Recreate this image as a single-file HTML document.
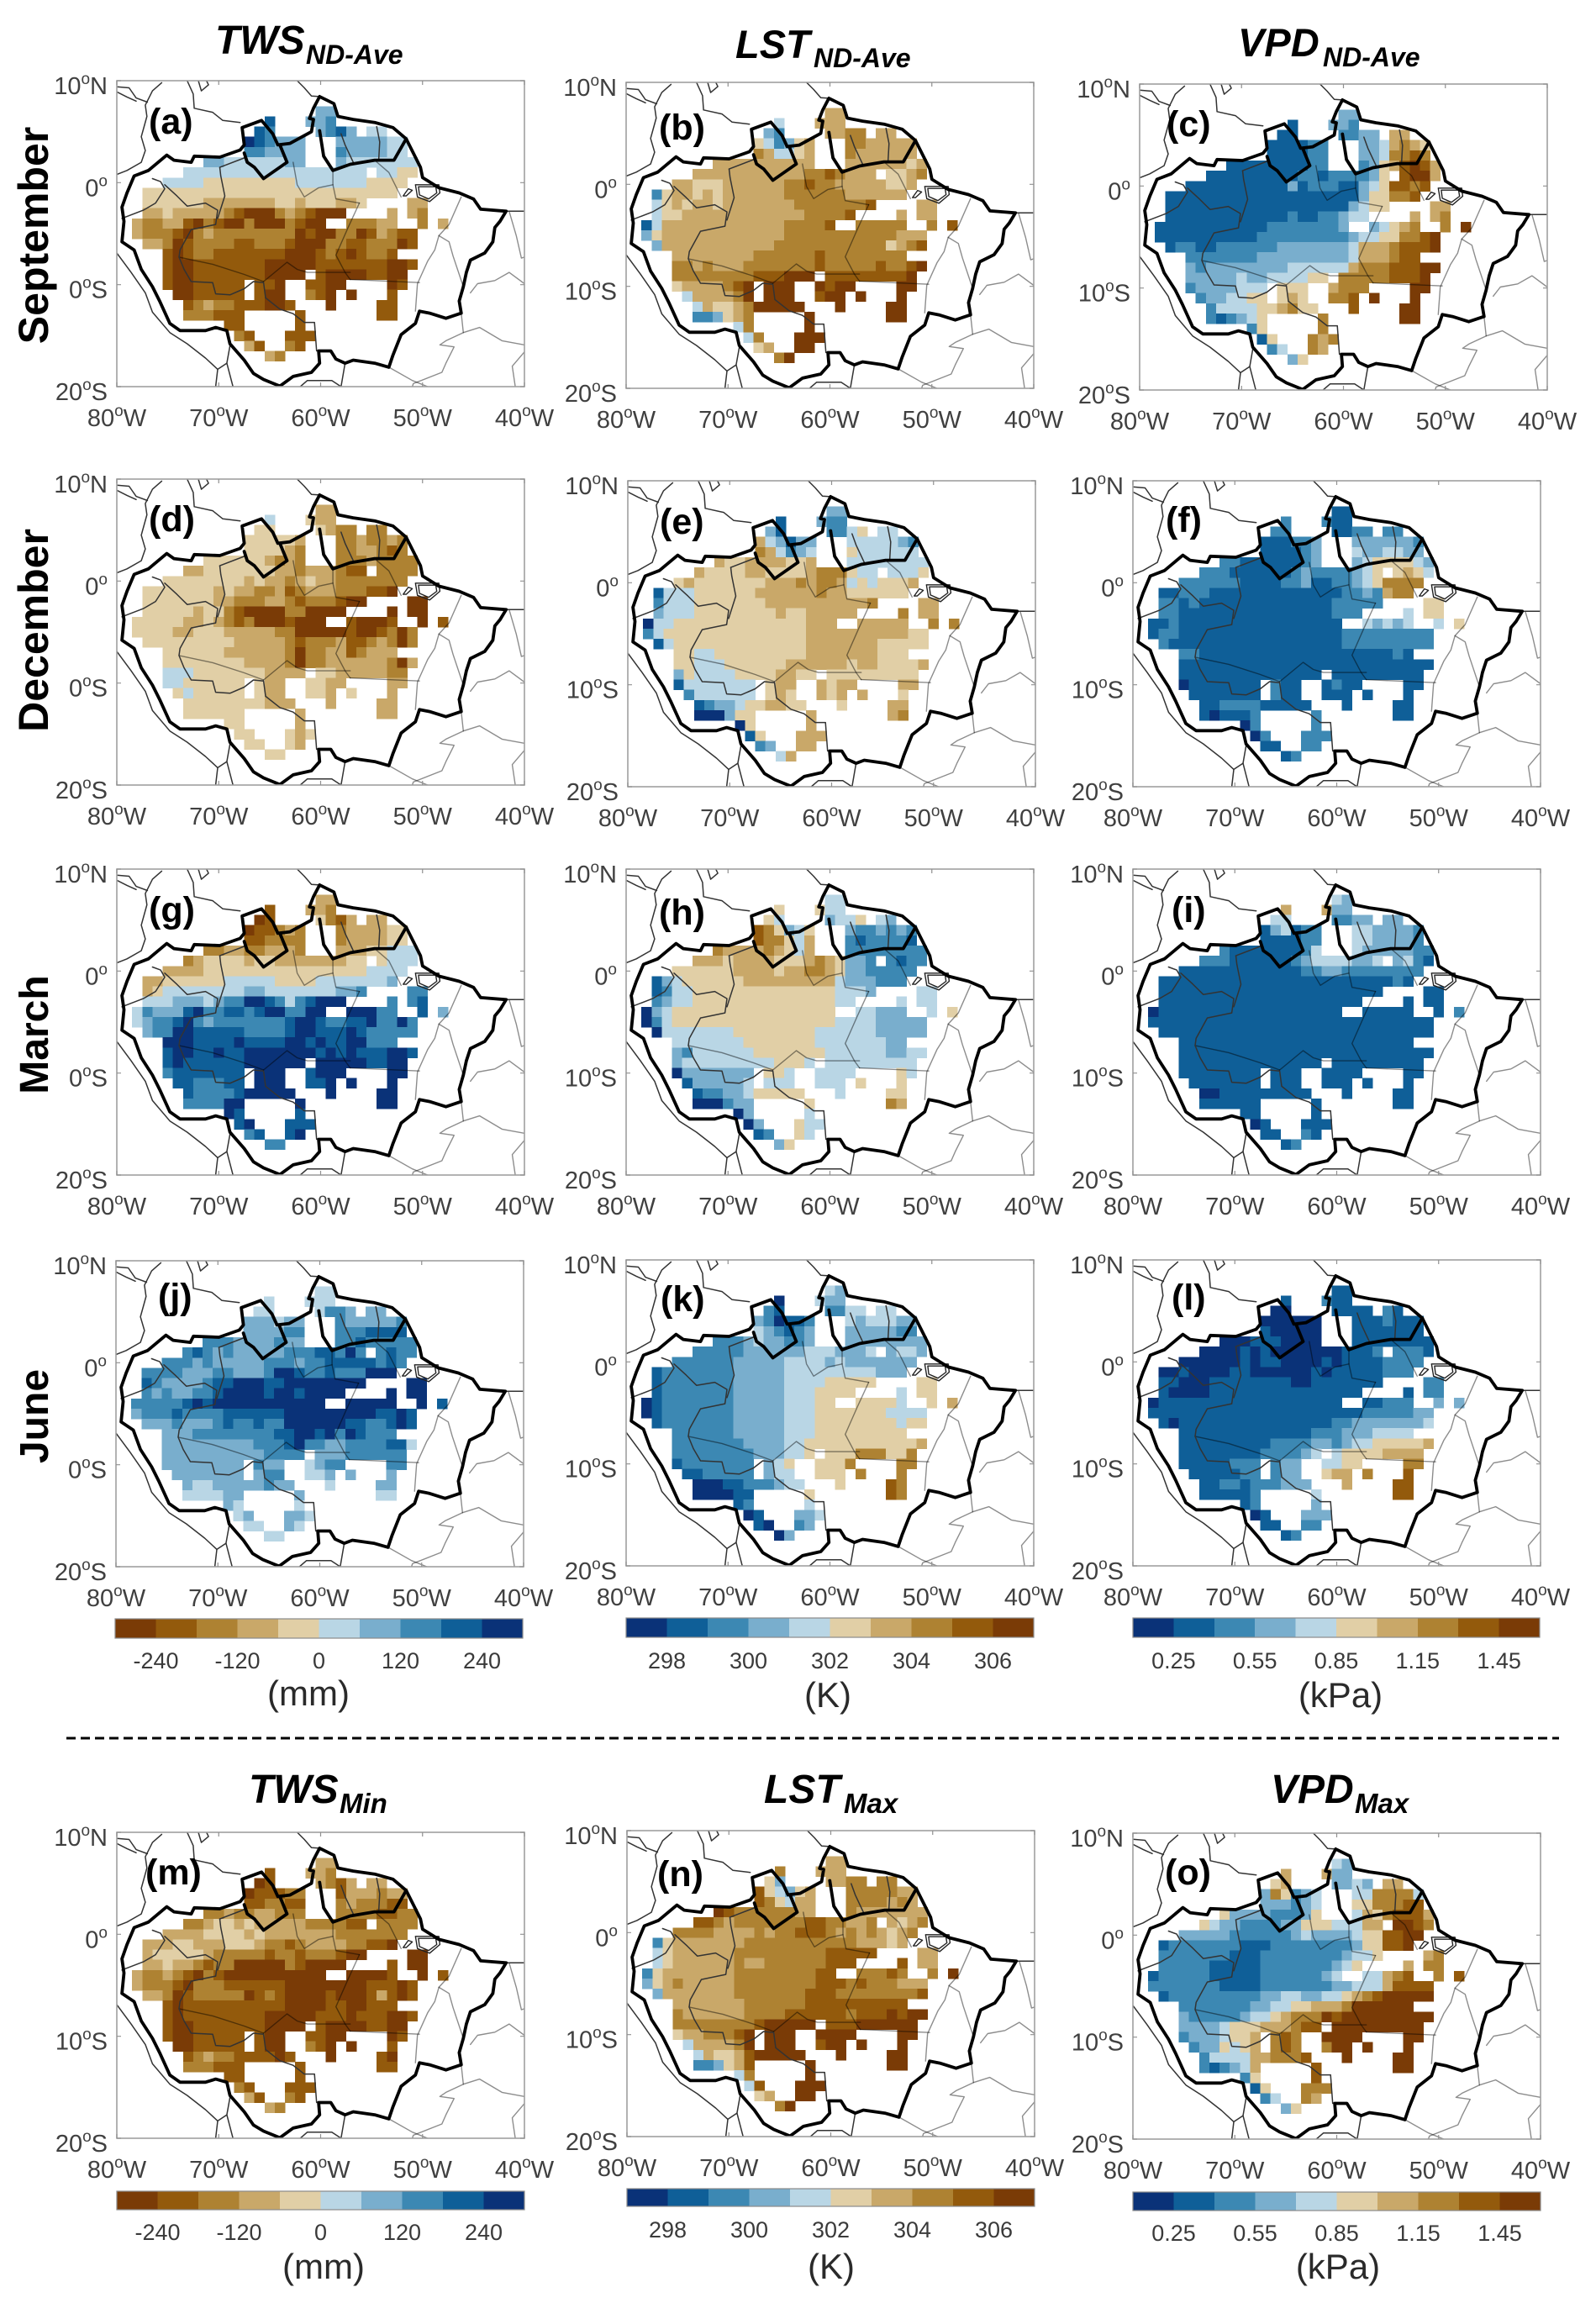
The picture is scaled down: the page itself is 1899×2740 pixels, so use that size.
<!DOCTYPE html>
<html lang="en">
<head>
<meta charset="utf-8">
<title>Amazon TWS, LST and VPD maps</title>
<style>
html,body{margin:0;padding:0;background:#fff;}
svg{display:block;font-family:"Liberation Sans",sans-serif;}
.title{font-weight:bold;font-style:italic;fill:#000;}
.row-label{font-weight:bold;font-size:50px;fill:#000;}
.tick{fill:#404040;font-size:29px;}
.cb-tick{fill:#3a3a3a;font-size:27px;}
.unit{fill:#2a2a2a;font-size:42px;}
.plabel{font-weight:bold;font-size:43px;fill:#000;}
</style>
</head>
<body>
<svg id="fig" xmlns="http://www.w3.org/2000/svg" width="1899" height="2740" viewBox="0 0 1899 2740">
<rect width="1899" height="2740" fill="#fff"/>
<g id="panels"></g>
<g id="colorbars"></g>
<g>
<text class="title" x="256" y="64" font-size="48">TWS</text>
<text class="title" x="364" y="76" font-size="32">ND-Ave</text>
<text class="title" x="875" y="69" font-size="47">LST</text>
<text class="title" x="968" y="80" font-size="32">ND-Ave</text>
<text class="title" x="1473" y="67" font-size="47">VPD</text>
<text class="title" x="1574" y="79" font-size="32">ND-Ave</text>
<text class="title" x="296" y="2145" font-size="48">TWS</text>
<text class="title" x="404" y="2157" font-size="33">Min</text>
<text class="title" x="909" y="2145" font-size="48">LST</text>
<text class="title" x="1004" y="2157" font-size="33">Max</text>
<text class="title" x="1512" y="2145" font-size="48">VPD</text>
<text class="title" x="1612" y="2157" font-size="33">Max</text>
</g>
<g>
<text class="row-label" text-anchor="middle" transform="translate(57 280) rotate(-90)">September</text>
<text class="row-label" text-anchor="middle" transform="translate(57 750) rotate(-90)">December</text>
<text class="row-label" text-anchor="middle" style="font-size:48px" transform="translate(57 1231) rotate(-90)">March</text>
<text class="row-label" text-anchor="middle" style="font-size:48px" transform="translate(57 1685) rotate(-90)">June</text>
</g>
<line x1="79" y1="2068" x2="1855" y2="2068" stroke="#000" stroke-width="3" stroke-dasharray="11 6"/>
</svg>
<script>
/* Colour ramps: index = value bin, lowest value first */
const twsColors = ["#7a3b06","#935a0c","#ae8232","#c9a869","#e1cfa6","#b9d6e5","#79aecd","#3c88b3","#0f5f98","#0a3278"];
const climateColors = ["#0a3278","#0f5f98","#3c88b3","#79aecd","#b9d6e5","#e1cfa6","#c9a869","#ae8232","#935a0c","#7a3b06"];

/* Axis ticks */
const lonTicks = [-80,-70,-60,-50,-40];
const latTicks = [10,0,-10,-20];

/* Grid: columns centred on 78W..48W, rows centred on 7N..17S, one degree apart */
const gridWestLon = -78;
const gridNorthLat = 7;

/* Colourbar ticks */
const twsBarDomain = [-300,300];
const lstBarDomain = [297,307];
const vpdBarDomain = [0.1,1.6];
const twsBarTicks = [-240,-120,0,120,240];
const lstBarTicks = [298,300,302,304,306];
const vpdBarTicks = [0.25,0.55,0.85,1.15,1.45];

/* Value bins per grid cell ('.' = no data) */
const twsSeptember = [
"..................66...........",
".............8...667...........",
"............87....6786.55......",
"...........987666...6666655....",
"...........776666...7666655....",
".......6655555566...65555555...",
".....555555555555555555.5544...",
"...555544444444455555554444....",
".4444444444444444444444444.....",
".4444443333333443444334....33..",
".33433333210002321000....3.32..",
"3223310210020002100..22233..2.3",
"3222102322222222010022013211...",
".332012222112221000221122201...",
"...10122111111100012101221.....",
"...1001111111000001111111001...",
"...10011111110000.100001100....",
"...10011111.110..1100....01....",
"....0011111.100..210.0...1.....",
".....12322111001...0....11.....",
".....222111.....1.......11.....",
".........11.....1..............",
"..........21...111.............",
"...........31..21..............",
".............32................"];
const lstSeptember = [
"..................66...........",
".............4...666...........",
"............32....6677.66......",
"...........542356...7766666....",
"...........764456...7666666....",
".......6666666666...66666656...",
".....666666666667787666.5567...",
"...665556666667787766666556....",
".2566565666666777777666666.....",
".4565665666666677777778....66..",
".45566666666666677778....6.66..",
"1466666666666677778..77777..7.8",
"3566666666666677777777777666...",
".366666666666777777777775678...",
"...66666666777777877777777.....",
"...7767666777777787777787789...",
"...77777777888999.888888889....",
"...56666789.999..9899....99....",
"....4666679.999..899.9...9.....",
".....46556799999...9....99.....",
".....223567.....9.......99.....",
".........47.....9..............",
"..........47...999.............",
"...........56..99..............",
".............79................"];
const vpdSeptember = [
"..................33...........",
".............1...332...........",
"............11....2233.66......",
"...........111122...3346765....",
"...........111122...3347787....",
".......1111111122...23568986...",
".....111111111221222235.8996...",
"...111111111131222113458878....",
".1111111111111111111355778.....",
".1111111111111111113455....66..",
".11111111111121122344....6.67..",
"1111111111122222223..34567..7.9",
"1111111111222222222344557789...",
".122112222223333333466678889...",
"...22222223333333334666788.....",
"...3233333333444444677788899...",
"...33333433444455.777778889....",
"...23333444.555..6777....99....",
"....2334455.565..778.9...9.....",
".....24444556755...8....99.....",
".....212345.....7.......99.....",
".........25.....7..............",
"..........15...767.............",
"...........24..76..............",
".............35................"];
const twsDecember = [
"..................33...........",
".............5...433...........",
"............44....4322.22......",
"...........444443...2232232....",
"...........444432...2233212....",
".......4444443232...22232222...",
".....334444444332333211.2222...",
"...444444443433234332222222....",
".4444444343322312333222110.....",
".4444444332223321222100....00..",
".44444344210000220000....0.00..",
"4444433432120001000..10001..0.1",
"4444334443333322000001001202...",
".444444444333332122231123202...",
"...44444433333320223312333.....",
"...4444444433332022333333203...",
"...55544444443333.443333322....",
"...55444444.433..4433....33....",
"....4544444.433..443.4...3.....",
".....44444444333...3....33.....",
".....444444.....3.......33.....",
".........44.....3..............",
"..........44...434.............",
"...........44..43..............",
".............44................"];
const lstDecember = [
"..................33...........",
".............1...322...........",
"............31....2245.44......",
"...........643133...4444432....",
"...........764234...5444444....",
".......6556666556...44444444...",
".....655556655556777544.4445...",
"...565555555666767764545556....",
".1444555555666666766555555.....",
".2444555555566666666667....66..",
".34445555555565566666....7.66..",
"0445555555555555666..66666..7.7",
"2455555555555555666666666655...",
".145555555555555666666655555...",
"...55445555555556666666555.....",
"...5544455555566666656655556...",
"...35444455556655.555555555....",
"...14444444.566..6566....66....",
"....2444444.565..656.6...5.....",
".....12334556655...5....66.....",
".....000355.....6.......67.....",
".........05.....6..............",
"..........15...666.............",
"...........23..66..............",
".............46................"];
const vpdDecember = [
"..................11...........",
".............2...211...........",
"............22....1122.22......",
"...........111223...3333332....",
"...........111123...4334433....",
".......2211111123...34555543...",
".....222111111232222345.5654...",
"...222222111122311223457777....",
".1122211111111111112232677.....",
".2212111111111111122222....55..",
".22111111111111111222....4.55..",
"1121111111111111111..43434..4.5",
"1221111111111111111222222222...",
".211111111111111111222222222...",
"...22111111111111111111121.....",
"...1111111111111111111111111...",
"...11111111111111.111111111....",
"...01111111.211..1211....11....",
"....1111111.211..111.1...1.....",
".....11222211111...1....11.....",
".....101112.....2.......11.....",
".........02.....2..............",
"..........02...222.............",
"...........11..22..............",
".............12................"];
const twsMarch = [
"..................33...........",
".............1...332...........",
"............01....4213.33......",
"...........011232...2333344....",
"...........112222...2333344....",
".......2233223332...33344555...",
".....234444344333333344.4555...",
"...333344444444444444445555....",
".3344444455555444455555556.....",
".3455555555665555555667....77..",
".55566656779987578999....7.78..",
"5766689778878997799..99977..8.6",
"5677897677777778998778897797...",
".677998888877778998889877777...",
"...99988889888899898899777.....",
"...8998898899999998989888998...",
"...89888888999999.999998899....",
"...78888888.999..8999....99....",
"....8877788.999..889.9...9.....",
".....87777899999...9....99.....",
".....777799.....9.......99.....",
".........98.....8..............",
"..........89...888.............",
"...........78..89..............",
".............77................"];
const lstMarch = [
"..................44...........",
".............5...544...........",
"............54....3445.43......",
"...........875345...3223232....",
"...........877546...2122221....",
".......7666676546...22222222...",
".....666566665556765332.2122...",
"...555555666656677653322222....",
".1345555556666666664333222.....",
".1244555555555555554443....44..",
".23445555555555555544....4.44..",
"0345555555555555555..44333..4.5",
"0245555555555555555444433333...",
".044444445555555544444433333...",
"...44444445555555444444433.....",
"...3244444455555554444443344...",
"...34444444445554.444444444....",
"...03333333.554..4444....54....",
"....1333334.444..444.5...5.....",
".....12233455555...4....55.....",
".....000233.....5.......76.....",
".........03.....4..............",
"..........03...544.............",
"...........12..54..............",
".............35................"];
const vpdMarch = [
"..................43...........",
".............6...633...........",
"............44....2233.33......",
"...........134122...4433332....",
"...........111122...4433332....",
".......2111111124...43333322...",
".....222111111234444334.3421...",
"...111111111111223322222222....",
".1111111111111111111111121.....",
".1111111111111111111111....11..",
".11111111111111111111....1.11..",
"0111111111111111111..11111..1.2",
"1111111111111111111111111111...",
".111111111111111111111111111...",
"...11111111111111111111111.....",
"...1111111111111111111111111...",
"...11111111111111.111111111....",
"...11111111.111..1111....11....",
"....1111111.111..111.1...1.....",
".....00111111111...1....11.....",
".....111111.....1.......11.....",
".........11.....1..............",
"..........01...111.............",
"...........11..21..............",
".............12................"];
const twsJune = [
"..................55...........",
".............5...555...........",
"............55....5776.66......",
"...........666566...7666667....",
"...........666677...7778888....",
".......7776666766...77877777...",
".....787676666677788797.7877...",
"...777676666677767788888787....",
".7777666776667998778777999.....",
".8766667889998899999999....99..",
".76766778999989989999....9.99..",
"7777789899999999999..99999..9.8",
"6777877778888889999999998898...",
".666766678778779999998877898...",
"...66677777777889989798777.....",
"...6666666667778977667777885...",
"...66666666667777.666777777....",
"...66666666.766..5677....77....",
"....6666666.677..556.6...6.....",
".....65566666766...5....66.....",
".....555566.....6.......55.....",
".........65.....5..............",
"..........56...665.............",
"...........55..65..............",
".............55................"];
const lstJune = [
"..................43...........",
".............0...433...........",
"............21....2244.44......",
"...........320112...4344433....",
"...........432123...3333322....",
".......2223433223...33333333...",
".....222223333334443334.3443...",
"...222222333334444343333333....",
".1222222233333444444444333.....",
".1222222233333444455555....55..",
".12222222333334445555....4.55..",
"0122222223333344455..55554..5.6",
"0122222223333344455555554444...",
".122222223333344455555555455...",
"...22222233333444555555555.....",
"...2222222333344555555555556...",
"...22222222333445.555777557....",
"...12222222.345..5557....77....",
"....1122222.344..555.7...7.....",
".....00011222344...5....87.....",
".....000011.....5.......87.....",
".........12.....4..............",
"..........01...334.............",
"...........10..23..............",
".............03................"];
const vpdJune = [
"..................11...........",
".............1...211...........",
"............00....1111.21......",
"...........000000...1112111....",
"...........100000...1111111....",
".......0001110000...11111111...",
".....000010100000001112.2221...",
"...000000101100001011112222....",
".0010000110000001011111222.....",
".1100011111111001111111....22..",
".10000111111111111111....1.22..",
"0111111111111111111..11222..3.3",
"1111111111111111111112222233...",
".101111111111111112233333334...",
"...11111111111112223334444.....",
"...1111111112222332344555556...",
"...11111111222234.455556666....",
"...11111222.233..4455....77....",
"....1111122.233..566.7...8.....",
".....11221222333...6....88.....",
".....111112.....4.......88.....",
".........12.....3..............",
"..........01...333.............",
"...........11..22..............",
".............12................"];
const twsMin = [
"..................33...........",
".............1...332...........",
"............01....3213.33......",
"...........011122...1333233....",
"...........112211...2322211....",
".......2232233222...22221122...",
".....223443433333222211.2222...",
"...333344443433333332222222....",
".3334433344432212333322110.....",
".3444443222221221222100....00..",
".33433212200000210000....1.00..",
"3223210210000000000..00001..0.1",
"3222102221111110000000011101...",
".332012222201210000100013101...",
"...10111111111100001100111.....",
"...1011111111000001110111001...",
"...10011111110000.100001100....",
"...10011111.100..1100....01....",
"....0011111.100..210.0...1.....",
".....12322111101...0....10.....",
".....222111.....1.......11.....",
".........11.....1..............",
"..........21...111.............",
"...........31..21..............",
".............32................"];
const lstMax = [
"..................66...........",
".............7...666...........",
"............53....6677.77......",
"...........854356...7777766....",
"...........875466...7777676....",
".......9877777766...76666666...",
".....887677777778877667.6567...",
"...777766667677888767676567....",
".2566666667777777777766656.....",
".4566666677777777788888....66..",
".45666666766777777888....8.66..",
"2566666667777777788..77787..7.9",
"3567666667777777788878777666...",
".366666667777777888777777778...",
"...66666667777778888888888.....",
"...7666666777788888878889899...",
"...77777777899999.888999999....",
"...56677789.999..9999....99....",
"....4666679.999..899.9...9.....",
".....46556899999...9....99.....",
".....223568.....9.......99.....",
".........47.....9..............",
"..........48...999.............",
"...........56..99..............",
".............79................"];
const vpdMax = [
"..................43...........",
".............6...633...........",
"............56....3343.66......",
"...........375234...4477774....",
"...........333234...5577788....",
".......5333322235...46578886...",
".....543322223355544466.9987...",
"...333332222223433334558899....",
".1222222211122222222355889.....",
".2222222111222222223445....67..",
".22222111112222222345....6.77..",
"1222221111122222234..44678..7.8",
"2222222111122222223344468888...",
".122222222233443344567899999...",
"...22222223344556667999999.....",
"...3222223445677798999999999...",
"...33334555666788.999999999....",
"...23334556.787..9999....99....",
"....2335456.787..799.9...9.....",
".....24444667778...9....99.....",
".....212346.....8.......99.....",
".........25.....8..............",
"..........15...777.............",
"...........24..76..............",
".............35................"];

/* Geography in [lon,lat] */
const basinOutline = [[-60.1,8.44],[-58.7,7.75],[-58.3,6.5],[-56.8,6.2],[-54.7,5.9],[-52.9,5.4],[-51.6,4.3],[-50.9,2.9],[-50.2,1.5],[-50,0.5],[-48.4,-0.5],[-46.4,-1],[-45,-1.6],[-44.3,-2.6],[-41.8,-2.8],[-42.4,-3.8],[-42.9,-4.4],[-43.1,-5.8],[-43.9,-6.9],[-45.3,-7.6],[-45.7,-8.8],[-46,-10.2],[-46.4,-11.6],[-46.2,-12.8],[-47.7,-13.3],[-49.3,-12.8],[-50.3,-12.6],[-50.7,-13.8],[-52.1,-14.9],[-52.9,-16.9],[-53.3,-18.1],[-54.7,-17.7],[-56.8,-17.4],[-57.6,-17.7],[-58.5,-17.3],[-59,-16.5],[-60.2,-16.5],[-60.1,-17.7],[-60.9,-18.6],[-62.7,-19],[-64,-19.95],[-65.6,-19.3],[-66.6,-18.7],[-67.5,-17.4],[-68.9,-15.8],[-69.2,-14.5],[-70.3,-14.2],[-71.3,-14.5],[-73.8,-14.5],[-74.8,-13.8],[-75.8,-11.6],[-76.5,-10.2],[-77.6,-8.5],[-78.3,-6.6],[-79.5,-5.8],[-79.3,-3.8],[-79.5,-2.4],[-79,-1],[-78.3,0.65],[-76.9,1.2],[-75.1,2.7],[-74.4,2.2],[-72.7,2],[-72.4,2.6],[-69.9,2.5],[-67.9,3.2],[-67.5,3.7],[-67.7,5.4],[-65.8,6.1],[-64.7,4.8],[-64.2,3.7],[-63,3.85],[-60.9,5],[-60.7,6.2],[-61.1,6.3],[-60.7,7.3],[-60.1,8.44]];
const innerBasinWest = [[-67.5,2.9],[-67.2,2],[-66.5,1.5],[-65.6,0.4],[-63.3,2],[-64,3.7]];
const innerBasinEast = [[-60.1,5.1],[-59.7,2.6],[-58.8,1.2],[-57.1,1.8],[-54.7,2.2],[-52.8,2.2],[-51.6,4.3]];
const countryLines = [
[[-75.6,9.8],[-76.5,9],[-77.2,7.6],[-77.05,6.5],[-77.6,4.5],[-77.2,3.15],[-77.6,2],[-79,1.2],[-80,0.8]],
[[-80,9.4],[-78.8,9.3],[-78.1,8.3],[-77,7.9]],
[[-80,8.9],[-79,8.4],[-78.1,8]],
[[-73.1,10],[-72.5,8.7],[-72.4,7.3],[-70.6,6.9],[-69.6,6.1],[-67.9,5.9]],
[[-72,10],[-71.7,9],[-71,9.6],[-71.2,10]],
[[-62.3,10],[-61.6,9.3],[-60.9,8.5],[-60.1,8.44]],
[[-80,-6.9],[-78.6,-8.8],[-77.2,-10.8],[-76.5,-12.7],[-74.8,-14.7],[-73.1,-15.8],[-71.3,-17.2],[-70.1,-18.3],[-70.3,-20]],
[[-69.2,-14.5],[-68.9,-16],[-69.2,-17.7],[-70.1,-18.3]],
[[-69.2,-17.7],[-68.6,-20]],
[[-62,-20],[-61.3,-19.4],[-58.9,-19.4],[-58,-20]],
[[-57.6,-17.7],[-58,-20]],
[[-79.5,-3.5],[-77.4,-2.7],[-76.2,-2],[-75.3,-0.6],[-75.7,0.1],[-76.5,0.4]],
[[-75.3,-0.2],[-74.1,-1.3],[-73.1,-2.3],[-71.3,-2],[-70.1,-2.7],[-70.3,-4.1],[-72.7,-4.6],[-73.8,-6.6],[-73.9,-7.3],[-73.4,-8.5],[-72.7,-9.7],[-70.6,-9.8],[-70.3,-10.9],[-68.9,-11],[-67.5,-10.4],[-66.6,-9.7],[-65.6,-9.8],[-65.4,-11.3],[-64,-12.4],[-62.7,-12.85],[-61.6,-13.7],[-60.6,-13.7],[-60.4,-16.5]],
[[-69.9,1.5],[-69.8,0.65],[-69.4,-1.3],[-70.1,-3.5]],
[[-69.9,1.5],[-67.3,2.5]],
[[-58,4.8],[-57.6,3.7],[-56.8,2]],
[[-54.5,5.5],[-54.2,4],[-54.3,2.2]],
[[-41.8,-2.8],[-40,-2.8]]];
const stateLines = [
[[-62.7,2],[-62.3,-0.2],[-61.6,-1.4],[-60.2,-0.5],[-58.8,-0.2],[-58.5,-1.6],[-56.2,-2]],
[[-58.8,1.2],[-58.8,-0.2]],
[[-56.2,-2],[-57.3,-4.4],[-58.5,-7.1],[-57.6,-8.8],[-57.1,-9.5]],
[[-57.1,-9.5],[-50.3,-9.8]],
[[-73.9,-7.3],[-70.6,-8],[-67.5,-9],[-65.6,-9.7]],
[[-65.6,-9.7],[-63.3,-7.8],[-62.3,-8.5],[-61.3,-8.8],[-57.1,-8.8]],
[[-54.7,2.2],[-53.3,1],[-52.1,-1.4]],
[[-46.2,-1.4],[-47.4,-4.1],[-48.4,-5.2],[-48.8,-6.6],[-49.5,-7.7],[-50.5,-9.9],[-50.7,-12.6]],
[[-48.4,-5.2],[-47.4,-5.8],[-47,-7.2],[-46,-10.2]],
[[-41.5,-2.8],[-40.8,-5.2],[-40.3,-7.4],[-40,-7.3]],
[[-45.3,-10.8],[-44.6,-9.9],[-42.9,-9.6],[-41.5,-8.8],[-40,-9.9]],
[[-46.2,-12.8],[-46,-14.7],[-47.7,-15.5],[-48.3,-15.9],[-46.9,-16.1],[-47.7,-17.7],[-48.1,-18.6],[-50.9,-19.7],[-51,-20]],
[[-46,-14.7],[-44.4,-14.2],[-42.2,-15.5],[-40,-15.9]],
[[-40,-16.6],[-41.2,-18],[-40.9,-20]],
[[-53.3,-18.1],[-51,-19.4],[-49.5,-20]]];
const islandLines = [
[[-50.7,-0.2],[-48.4,-0.2],[-48.3,-1],[-49.3,-1.85],[-50.5,-1.4],[-50.7,-0.2]],
[[-50.4,-0.4],[-48.7,-0.4],[-48.6,-1],[-49.4,-1.6],[-50.3,-1.2],[-50.4,-0.4]],
[[-51.9,-1.3],[-51.4,-0.6],[-51,-0.75],[-51.6,-1.3],[-51.9,-1.3]]];

const panelWidth = 485;
const panelHeight = 364;
const svgNS = "http://www.w3.org/2000/svg";

const panels = [
 {id:"a",grid:twsSeptember,colors:twsColors,left:139,top:96,lx:38,ly:63,cut:true},
 {id:"b",grid:lstSeptember,colors:climateColors,left:745,top:98,lx:39,ly:68},
 {id:"c",grid:vpdSeptember,colors:climateColors,left:1356,top:100,lx:32,ly:62},
 {id:"d",grid:twsDecember,colors:twsColors,left:139,top:570,lx:38,ly:62,cut:true},
 {id:"e",grid:lstDecember,colors:climateColors,left:747,top:572,lx:38,ly:63},
 {id:"f",grid:vpdDecember,colors:climateColors,left:1348,top:572,lx:39,ly:61},
 {id:"g",grid:twsMarch,colors:twsColors,left:139,top:1034,lx:38,ly:63,cut:true},
 {id:"h",grid:lstMarch,colors:climateColors,left:745,top:1034,lx:39,ly:66},
 {id:"i",grid:vpdMarch,colors:climateColors,left:1348,top:1034,lx:46,ly:63},
 {id:"j",grid:twsJune,colors:twsColors,left:138,top:1500,lx:50,ly:57,cut:true},
 {id:"k",grid:lstJune,colors:climateColors,left:745,top:1499,lx:41,ly:61},
 {id:"l",grid:vpdJune,colors:climateColors,left:1348,top:1499,lx:46,ly:59},
 {id:"m",grid:twsMin,colors:twsColors,left:139,top:2180,lx:34,ly:62},
 {id:"n",grid:lstMax,colors:climateColors,left:746,top:2178,lx:36,ly:66},
 {id:"o",grid:vpdMax,colors:climateColors,left:1348,top:2181,lx:38,ly:61}
];

const bars = [
 {id:"tws-nd",colors:twsColors,domain:twsBarDomain,ticks:twsBarTicks,fmt:0,left:137,right:622,top:1926,bottom:1949,labelY:1985,unit:"(mm)",unitX:367,unitY:2029},
 {id:"lst-nd",colors:climateColors,domain:lstBarDomain,ticks:lstBarTicks,fmt:0,left:745,right:1230,top:1925,bottom:1948,labelY:1985,unit:"(K)",unitX:985,unitY:2031},
 {id:"vpd-nd",colors:climateColors,domain:vpdBarDomain,ticks:vpdBarTicks,fmt:2,left:1348,right:1832,top:1925,bottom:1948,labelY:1985,unit:"(kPa)",unitX:1595,unitY:2031},
 {id:"tws-min",colors:twsColors,domain:twsBarDomain,ticks:twsBarTicks,fmt:0,left:139,right:624,top:2607,bottom:2629,labelY:2665,unit:"(mm)",unitX:385,unitY:2711},
 {id:"lst-max",colors:climateColors,domain:lstBarDomain,ticks:lstBarTicks,fmt:0,left:746,right:1231,top:2604,bottom:2625,labelY:2662,unit:"(K)",unitX:989,unitY:2711},
 {id:"vpd-max",colors:climateColors,domain:vpdBarDomain,ticks:vpdBarTicks,fmt:2,left:1348,right:1833,top:2608,bottom:2630,labelY:2666,unit:"(kPa)",unitX:1592,unitY:2711}
];

function make(tag, attrs, parent){
  const node = document.createElementNS(svgNS, tag);
  for (const k in attrs) node.setAttribute(k, attrs[k]);
  if (parent) parent.appendChild(node);
  return node;
}

function degreeLabel(parent, x, y, anchor, number, suffix){
  const t = make("text", {x:x, y:y, "text-anchor":anchor, "class":"tick"}, parent);
  
  
  t.appendChild(document.createTextNode(number));
  const o = make("tspan", {dy:-12, "font-size":19}, t);
  o.textContent = "o";
  if (suffix) {
    const s = make("tspan", {dy:12}, t);
    s.textContent = suffix;
  }
}

function drawPanel(p){
  const root = document.getElementById("panels");
  const xOf = lon => p.left + (lon + 80) / 40 * panelWidth;
  const yOf = lat => p.top + (10 - lat) / 30 * panelHeight;
  const g = make("g", {}, root);
  
  

  const clip = make("clipPath", {id:"clip-" + p.id}, g);
  make("rect", {x:p.left, y:p.top, width:panelWidth, height:panelHeight}, clip);

  const cells = make("g", {"shape-rendering":"crispEdges"}, g);
  
  
  p.grid.forEach((row, r) => {
    for (let c = 0; c < row.length; c++) {
      const ch = row[c];
      if (ch === ".") continue;
      const lon = gridWestLon + c;
      const lat = gridNorthLat - r;
      const x0 = xOf(lon - 0.5), x1 = xOf(lon + 0.5);
      const y0 = yOf(lat + 0.5), y1 = yOf(lat - 0.5);
      const cell = make("rect", {x:x0.toFixed(1), y:y0.toFixed(1), width:(x1-x0+0.4).toFixed(1), height:(y1-y0+0.4).toFixed(1), fill:p.colors[+ch]}, cells);
      
      
    }
  });

  const geo = make("g", {"clip-path":"url(#clip-" + p.id + ")", fill:"none", "stroke-linejoin":"round", "stroke-linecap":"round"}, g);
  
  
  const pts = line => line.map(q => xOf(q[0]).toFixed(1) + "," + yOf(q[1]).toFixed(1)).join(" ");
  stateLines.forEach(line => {
    const s = make("polyline", {points:pts(line), stroke:"#000", "stroke-opacity":0.45, "stroke-width":1.4}, geo);
    
    
  });
  countryLines.forEach(line => {
    const s = make("polyline", {points:pts(line), stroke:"#333", "stroke-width":1.5}, geo);
    
    
  });
  islandLines.forEach(line => {
    const s = make("polyline", {points:pts(line), stroke:"#222", "stroke-width":1.4}, geo);
    
    
  });
  [basinOutline, innerBasinWest, innerBasinEast].forEach(line => {
    const s = make("polyline", {points:pts(line), stroke:"#000", "stroke-width":3.8}, geo);
    
    
  });

  const frame = make("rect", {x:p.left, y:p.top, width:panelWidth, height:panelHeight, fill:"none", stroke:"#a0a0a0", "stroke-width":1.6}, g);
  
  

  lonTicks.forEach(lon => {
    const x = xOf(lon);
    const tb = make("path", {d:"M" + x + " " + (p.top + panelHeight) + "v-5M" + x + " " + p.top + "v5", stroke:"#909090", "stroke-width":1.2, fill:"none"}, g);
    
    
    degreeLabel(g, x, p.top + panelHeight + 47, "middle", String(Math.abs(lon)), "W");
  });
  latTicks.forEach(lat => {
    const y = yOf(lat);
    const tb = make("path", {d:"M" + p.left + " " + y + "h5M" + (p.left + panelWidth) + " " + y + "h-5", stroke:"#909090", "stroke-width":1.2, fill:"none"}, g);
    
    
    let num = String(Math.abs(lat));
    if (p.cut && lat === -10) num = "0";
    const suffix = lat > 0 ? "N" : (lat < 0 ? "S" : "");
    degreeLabel(g, p.left - 11, y + 16, "end", num, suffix);
  });

  const label = make("text", {x:p.left + p.lx, y:p.top + p.ly, "class":"plabel"}, g);
  
  
  label.textContent = "(" + p.id + ")";
}

function drawBar(b){
  const root = document.getElementById("colorbars");
  const g = make("g", {}, root);
  
  
  const xOf = v => b.left + (v - b.domain[0]) / (b.domain[1] - b.domain[0]) * (b.right - b.left);
  const step = (b.domain[1] - b.domain[0]) / b.colors.length;
  b.colors.forEach((col, i) => {
    const x0 = xOf(b.domain[0] + i * step), x1 = xOf(b.domain[0] + (i + 1) * step);
    const seg = make("rect", {x:x0.toFixed(1), y:b.top, width:(x1 - x0 + 0.4).toFixed(1), height:b.bottom - b.top, fill:col, "shape-rendering":"crispEdges"}, g);
    
    
  });
  const edge = make("rect", {x:b.left, y:b.top, width:b.right - b.left, height:b.bottom - b.top, fill:"none", stroke:"#8a8a8a", "stroke-width":1.2}, g);
  
  
  b.ticks.forEach(v => {
    const t = make("text", {x:xOf(v).toFixed(1), y:b.labelY, "text-anchor":"middle", "class":"cb-tick"}, g);
    
    
    t.textContent = v.toFixed(b.fmt);
  });
  const u = make("text", {x:b.unitX, y:b.unitY, "text-anchor":"middle", "class":"unit"}, g);
  
  
  u.textContent = b.unit;
}

panels.forEach(drawPanel);
bars.forEach(drawBar);
</script>
</body>
</html>
